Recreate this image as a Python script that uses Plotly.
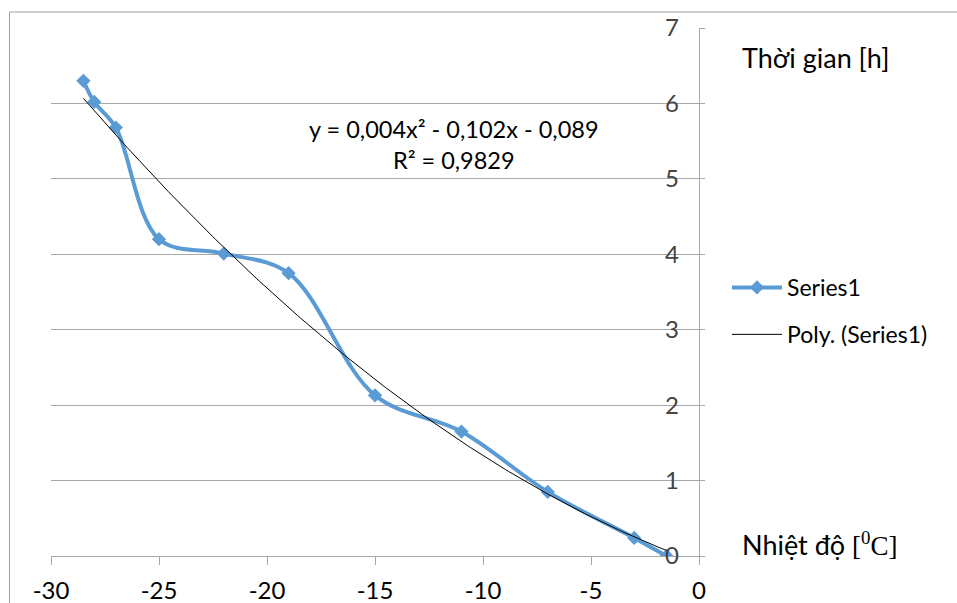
import numpy as np
import plotly.graph_objects as go

# ---- data ----
temp_c = [-28.5, -28.0, -27.0, -25.0, -22.0, -19.0, -15.0, -11.0, -7.0, -3.0, -1.5]
time_h = [6.30, 6.02, 5.68, 4.20, 4.01, 3.75, 2.13, 1.65, 0.85, 0.24, 0.00]
trend_coef = [0.004, -0.102, -0.089]   # y = a x^2 + b x + c (as printed)
x_ticks = [-30, -25, -20, -15, -10, -5, 0]
y_ticks = [0, 1, 2, 3, 4, 5, 6, 7]
eq_text = "y = 0,004x² - 0,102x - 0,089<br>R² = 0,9829"
series_name = "Series1"
trend_name = "Poly. (Series1)"
y_title = "Thời gian [h]"
x_title = "Nhiệt độ <span style=\"font-family:'Liberation Serif'\">[<sup>0</sup>C]</span>"

FONT = "Lato"
W, H = 957, 603
L, R, T, B = 51, 258, 28, 47
pw, ph = W - L - R, H - T - B


def px(xp):
    return (xp - L) / pw


def py(yp):
    return (H - B - yp) / ph


xt = np.linspace(min(temp_c), max(temp_c), 200)
yt = np.polyval(trend_coef, xt)

fig = go.Figure()
fig.add_trace(go.Scatter(
    x=temp_c, y=time_h, mode="lines+markers", name=series_name,
    line=dict(color="#5B9BD5", width=4, shape="spline", smoothing=1.0),
    marker=dict(symbol="diamond", size=11, color="#5B9BD5"),
    legendgroup="a",
))
fig.add_trace(go.Scatter(
    x=xt, y=yt, mode="lines", name=trend_name,
    line=dict(color="black", width=1),
    legendgroup="b",
))

grid = "#A8A8A8"
fig.update_layout(
    width=W, height=H,
    margin=dict(l=L, r=R, t=T, b=B, autoexpand=False),
    paper_bgcolor="white", plot_bgcolor="white",
    font=dict(family=FONT, size=23, color="black"),
    xaxis=dict(
        range=[-30, 0], tickvals=x_ticks, ticktext=[str(v) for v in x_ticks],
        showgrid=False, zeroline=False, showline=True, linecolor=grid, linewidth=1,
        ticks="outside", ticklen=8, tickcolor=grid, tickfont=dict(size=24),
        ticklabeloverflow="allow", ticklabelstandoff=5,
    ),
    yaxis=dict(
        range=[0, 7], tickvals=y_ticks, side="right",
        showgrid=True, gridcolor=grid, gridwidth=1,
        zeroline=False, showline=True, linecolor=grid, linewidth=1,
        ticks="outside", ticklen=5, tickcolor=grid,
        ticklabelposition="inside", ticklabelstandoff=22, tickfont=dict(size=24),
        ticklabeloverflow="allow",
    ),
    legend=dict(
        x=px(727), y=py(266), xanchor="left", yanchor="top",
        bgcolor="rgba(0,0,0,0)", font=dict(size=23),
        tracegroupgap=14, itemwidth=50,
    ),
    showlegend=True,
)

fig.add_annotation(text=eq_text, x=px(454), y=py(144), xref="paper", yref="paper",
                   xanchor="center", yanchor="middle", showarrow=False,
                   align="center", font=dict(size=23.5))
fig.add_annotation(text=y_title, x=px(740), y=py(58), xref="paper", yref="paper",
                   xanchor="left", yanchor="middle", showarrow=False,
                   font=dict(size=27))
fig.add_annotation(text=x_title, x=px(740), y=py(544), xref="paper", yref="paper",
                   xanchor="left", yanchor="middle", showarrow=False,
                   font=dict(size=27))

# chart-area frame (only top and left edges are inside the picture)
fig.add_shape(type="rect", xref="paper", yref="paper",
              x0=px(9.5), x1=px(1200), y0=py(12), y1=py(800),
              line=dict(color="#A0A0A0", width=1), fillcolor="rgba(0,0,0,0)",
              layer="below")

fig.write_html("out.html", config={"displayModeBar": False},
               post_script="document.body.style.margin='0';document.body.style.padding='0';")
